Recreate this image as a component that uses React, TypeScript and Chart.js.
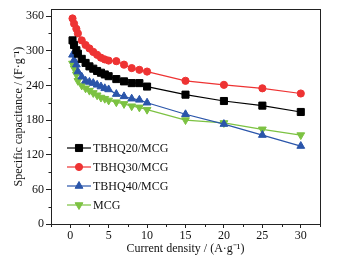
import React, { useEffect, useRef } from "react";
import { Chart, registerables } from "chart.js";

Chart.register(...registerables);

const currentDensity = [0.3, 0.5, 0.8, 1, 1.5, 2, 2.5, 3, 3.5, 4, 4.5, 5, 6, 7, 8, 9, 10, 15, 20, 25, 30];
const tbhq20 = [318, 310, 301, 295, 286, 279, 273, 269, 265, 262, 259, 256, 251, 247, 244, 244, 238, 224, 213, 205, 194];
const tbhq30 = [356, 347, 338, 330, 318, 310, 304, 298, 293, 288, 285, 283, 282, 276, 270, 267, 264, 248, 241, 235, 226];
const tbhq40 = [293, 284, 276, 264, 255, 248, 246, 244, 241, 238, 235, 233, 225, 221, 217, 215, 210, 190, 173, 154, 135];
const mcg = [278, 270, 259, 248, 240, 235, 231, 227, 223, 219, 217, 214, 211, 208, 204, 202, 198, 180, 175, 164, 154];

const seriesLabels = ["TBHQ20/MCG", "TBHQ30/MCG", "TBHQ40/MCG", "MCG"];
const xTickLabels = [0, 5, 10, 15, 20, 25, 30];
const xMinorTicks = [-2.5, 2.5, 7.5, 12.5, 17.5, 22.5, 27.5, 32.5];
const yTickLabels = [0, 60, 120, 180, 240, 300, 360];
const yMinorTicks = [30, 90, 150, 210, 270, 330];

const FONT = "'Liberation Serif', 'Times New Roman', serif";

function drawPoint(ctx: CanvasRenderingContext2D, style: string, r: number, x: number, y: number, rotDeg: number) {
  ctx.beginPath();
  if (style === "rect") {
    const s = Math.SQRT1_2 * r;
    ctx.rect(x - s, y - s, 2 * s, 2 * s);
  } else if (style === "circle") {
    ctx.arc(x, y, r, 0, Math.PI * 2);
  } else if (style === "triangle") {
    const a0 = (rotDeg * Math.PI) / 180;
    const a1 = a0 - (2 * Math.PI) / 3;
    const a2 = a0 + (2 * Math.PI) / 3;
    ctx.moveTo(x + Math.sin(a0) * r, y - Math.cos(a0) * r);
    ctx.lineTo(x + Math.sin(a1) * r, y - Math.cos(a1) * r);
    ctx.lineTo(x + Math.sin(a2) * r, y - Math.cos(a2) * r);
    ctx.closePath();
  }
  ctx.fill();
  ctx.stroke();
}

const framePlugin = {
  id: "frame",
  afterDraw(chart: any) {
    const { ctx, chartArea } = chart;
    const { left, right, top, bottom } = chartArea;
    ctx.save();
    ctx.strokeStyle = "#222";
    ctx.lineWidth = 1;
    ctx.strokeRect(Math.round(left) + 0.5, Math.round(top) + 0.5, Math.round(right - left), Math.round(bottom - top));
    const xs = chart.scales.x;
    const ys = chart.scales.y;
    ctx.beginPath();
    xMinorTicks.forEach((v) => {
      const px = Math.round(xs.getPixelForValue(v)) + 0.5;
      ctx.moveTo(px, Math.round(bottom) + 0.5);
      ctx.lineTo(px, Math.round(bottom) + 3);
    });
    yMinorTicks.forEach((v) => {
      const py = Math.round(ys.getPixelForValue(v)) + 0.5;
      ctx.moveTo(Math.round(left) + 0.5, py);
      ctx.lineTo(Math.round(left) - 2.5, py);
    });
    ctx.stroke();

    const lx0 = left + 16;
    const lx1 = left + 40;
    chart.data.datasets.forEach((ds: any, i: number) => {
      const y = 148 + i * 19;
      ctx.strokeStyle = ds.borderColor;
      ctx.lineWidth = 1.2;
      ctx.beginPath();
      ctx.moveTo(lx0, y);
      ctx.lineTo(lx1, y);
      ctx.stroke();
      ctx.fillStyle = ds.pointBackgroundColor;
      ctx.strokeStyle = ds.pointBackgroundColor;
      ctx.lineWidth = 1;
      drawPoint(ctx, ds.pointStyle, ds.pointRadius, (lx0 + lx1) / 2, y, ds.pointRotation || 0);
      ctx.fillStyle = "#111";
      ctx.font = `12px ${FONT}`;
      ctx.textBaseline = "middle";
      ctx.textAlign = "left";
      ctx.fillText(ds.label, lx1 + 2, y + 1);
    });
    ctx.restore();
  },
};

function makeDs(label: string, values: number[], color: string, style: string, radius: number, rotation = 0) {
  return {
    label,
    data: currentDensity.map((x, i) => ({ x, y: values[i] })),
    borderColor: color,
    borderWidth: 1.2,
    pointStyle: style,
    pointRadius: radius,
    pointRotation: rotation,
    pointBackgroundColor: color,
    pointBorderColor: color,
    pointBorderWidth: 1,
    fill: false,
    tension: 0,
  };
}

export default function App() {
  const ref = useRef<HTMLCanvasElement>(null);
  useEffect(() => {
    if (!ref.current) return;
    const chart = new Chart(ref.current, {
      type: "line",
      data: {
        datasets: [
          makeDs(seriesLabels[0], tbhq20, "#000000", "rect", 5),
          makeDs(seriesLabels[1], tbhq30, "#ee3333", "circle", 3.6),
          makeDs(seriesLabels[2], tbhq40, "#2a55aa", "triangle", 4.5),
          makeDs(seriesLabels[3], mcg, "#7cc242", "triangle", 4.5, 180),
        ] as any,
      },
      options: {
        animation: false,
        responsive: false,
        maintainAspectRatio: false,
        layout: { padding: { left: 0, right: 27, top: 7, bottom: 0 } },
        plugins: { legend: { display: false }, tooltip: { enabled: false } },
        scales: {
          x: {
            type: "linear",
            min: -2.5,
            max: 32.5,
            afterFit: (s: any) => {
              s.height = 37;
            },
            afterBuildTicks: (s: any) => {
              s.ticks = xTickLabels.map((v) => ({ value: v }));
            },
            ticks: {
              autoSkip: false,
              maxRotation: 0,
              padding: 1,
              color: "#111",
              font: { family: FONT, size: 12 },
              callback: (v: any) => String(v),
            },
            grid: {
              drawOnChartArea: false,
              tickLength: 4,
              tickColor: "#222",
            },
            border: { display: true, color: "#222", width: 1 },
            title: {
              display: true,
              text: "Current density / (A·g⁻¹)",
              color: "#111",
              font: { family: FONT, size: 12 },
              padding: { top: 0, bottom: 5 },
            },
          },
          y: {
            type: "linear",
            min: 0,
            max: 372,
            afterFit: (s: any) => {
              s.width = 51;
            },
            afterBuildTicks: (s: any) => {
              s.ticks = yTickLabels.map((v) => ({ value: v }));
            },
            ticks: {
              autoSkip: false,
              padding: 2,
              color: "#111",
              font: { family: FONT, size: 12 },
              callback: (v: any) => String(v),
            },
            grid: {
              drawOnChartArea: false,
              tickLength: 5,
              tickColor: "#222",
            },
            border: { display: true, color: "#222", width: 1 },
            title: {
              display: true,
              text: "Specific capacitance / (F·g⁻¹)",
              color: "#111",
              font: { family: FONT, size: 12 },
              padding: { top: 12, bottom: 0 },
            },
          },
        },
      },
      plugins: [framePlugin],
    });
    return () => chart.destroy();
  }, []);
  return (
    <div style={{ position: "fixed", left: 0, top: 0, width: 347, height: 261, background: "#fff" }}>
      <canvas ref={ref} width={347} height={261} style={{ width: 347, height: 261 }} />
    </div>
  );
}
